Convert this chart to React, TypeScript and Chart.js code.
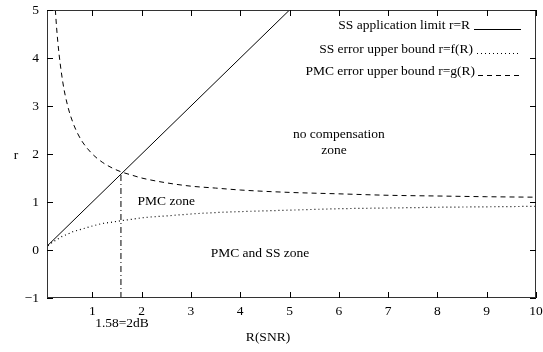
import React, { useEffect, useRef } from "react";
import { Chart, registerables } from "chart.js";

Chart.register(...registerables);

// Sample abscissae R (SNR)
const rSamples = [0.1, 0.15, 0.2, 0.25, 0.3, 0.4, 0.5, 0.6, 0.7, 0.8, 1, 1.2, 1.4, 1.58, 1.8, 2, 2.5, 3, 3.5, 4, 5, 6, 7, 8, 9, 10];
// SS error upper bound r=f(R)
const fValues = [0.09, 0.13, 0.17, 0.2, 0.23, 0.29, 0.33, 0.38, 0.41, 0.44, 0.5, 0.55, 0.58, 0.61, 0.64, 0.67, 0.71, 0.75, 0.78, 0.8, 0.83, 0.86, 0.875, 0.89, 0.9, 0.91];
// PMC error upper bound r=g(R)
const gValues = [11, 7.67, 6, 5, 4.33, 3.5, 3, 2.67, 2.43, 2.25, 2, 1.83, 1.71, 1.63, 1.56, 1.5, 1.4, 1.33, 1.29, 1.25, 1.2, 1.17, 1.14, 1.125, 1.11, 1.1];
// SS application limit r=R
const limitR = [0.1, 5];
const limitr = [0.1, 5];
// 2 dB marker
const markerR = [1.58, 1.58];
const markerr = [-1, 1.6];

const xTicks = [1, 2, 3, 4, 5, 6, 7, 8, 9, 10];
const yTicks = [-1, 0, 1, 2, 3, 4, 5];

const legendLabels = ["SS application limit r=R", "SS error upper bound r=f(R)", "PMC error upper bound r=g(R)"];
const legendDashes = [[], [1, 3], [5, 4]];

const FONT = '13.5px "Liberation Serif", "Times New Roman", serif';

const decorPlugin = {
  id: "decor",
  afterDraw(chart: any) {
    const { ctx, chartArea } = chart;
    const xs = chart.scales.x;
    const ys = chart.scales.y;
    const { left, right, top, bottom } = chartArea;
    ctx.save();
    // frame
    ctx.strokeStyle = "#333";
    ctx.lineWidth = 1;
    ctx.setLineDash([]);
    ctx.strokeRect(Math.round(left) + 0.5, Math.round(top) + 0.5, Math.round(right - left) - 1, Math.round(bottom - top) - 1);
    // inward ticks
    ctx.strokeStyle = "#000";
    ctx.beginPath();
    xTicks.forEach((v) => {
      const px = Math.round(xs.getPixelForValue(v)) + 0.5;
      ctx.moveTo(px, bottom);
      ctx.lineTo(px, bottom - 6);
      ctx.moveTo(px, top);
      ctx.lineTo(px, top + 6);
    });
    yTicks.forEach((v) => {
      const py = Math.round(ys.getPixelForValue(v)) + 0.5;
      ctx.moveTo(left, py);
      ctx.lineTo(left + 6, py);
      ctx.moveTo(right, py);
      ctx.lineTo(right - 6, py);
    });
    ctx.stroke();

    // texts
    ctx.fillStyle = "#000";
    ctx.font = FONT;
    ctx.textBaseline = "middle";
    ctx.textAlign = "center";
    ctx.fillText("r", 16, 155);
    ctx.fillText("R(SNR)", 268, 337);
    ctx.fillText("1.58=2dB", 122, 323);
    ctx.fillText("no compensation", xs.getPixelForValue(6.0), ys.getPixelForValue(2.4));
    ctx.fillText("zone", xs.getPixelForValue(5.9), ys.getPixelForValue(2.08));
    ctx.fillText("PMC zone", xs.getPixelForValue(2.5), ys.getPixelForValue(1.02));
    ctx.fillText("PMC and SS zone", xs.getPixelForValue(4.4), ys.getPixelForValue(-0.08));

    // legend
    ctx.textAlign = "right";
    ctx.textBaseline = "alphabetic";
    const baselines = [29, 53, 75];
    const textRight = [470, 473, 475];
    const lineStart = [474, 477, 478];
    const lineEnd = [521, 520, 522];
    legendLabels.forEach((lab, i) => {
      ctx.fillText(lab, textRight[i], baselines[i]);
      ctx.beginPath();
      ctx.setLineDash(legendDashes[i]);
      ctx.strokeStyle = "#000";
      ctx.moveTo(lineStart[i], baselines[i] + 0.5);
      ctx.lineTo(lineEnd[i], baselines[i] + 0.5);
      ctx.stroke();
    });
    ctx.restore();
  },
};

export default function App() {
  const ref = useRef<HTMLCanvasElement>(null);
  useEffect(() => {
    document.body.style.margin = "0";
    const canvas = ref.current!;
    const chart = new Chart(canvas, {
      type: "scatter",
      data: {
        datasets: [
          {
            label: legendLabels[0],
            data: limitR.map((x, i) => ({ x, y: limitr[i] })),
            showLine: true,
            borderColor: "#000",
            borderWidth: 1,
            pointRadius: 0,
          },
          {
            label: legendLabels[1],
            data: rSamples.map((x, i) => ({ x, y: fValues[i] })),
            showLine: true,
            borderColor: "#000",
            borderWidth: 1.2,
            borderDash: [1, 3],
            pointRadius: 0,
            cubicInterpolationMode: "monotone",
          },
          {
            label: legendLabels[2],
            data: rSamples.map((x, i) => ({ x, y: gValues[i] })),
            showLine: true,
            borderColor: "#000",
            borderWidth: 1,
            borderDash: [5, 4],
            pointRadius: 0,
            cubicInterpolationMode: "monotone",
          },
          {
            label: "2dB",
            data: markerR.map((x, i) => ({ x, y: markerr[i] })),
            showLine: true,
            borderColor: "#000",
            borderWidth: 1,
            borderDash: [6, 3, 1, 3],
            pointRadius: 0,
          },
        ],
      } as any,
      options: {
        animation: false,
        responsive: false,
        devicePixelRatio: 1,
        layout: { padding: { top: 10, right: 7, left: 0, bottom: 0 } },
        plugins: { legend: { display: false }, tooltip: { enabled: false } },
        scales: {
          x: {
            type: "linear",
            min: 0.08,
            max: 10,
            afterBuildTicks: (s: any) => {
              s.ticks = xTicks.map((v) => ({ value: v }));
            },
            afterFit: (s: any) => {
              s.height = 54;
              s.paddingLeft = 0;
              s.paddingRight = 0;
            },
            grid: { display: false, drawTicks: false },
            border: { display: false },
            ticks: { color: "#000", font: { family: '"Liberation Serif", serif', size: 13.5 }, padding: 5, maxRotation: 0, autoSkip: false },
          },
          y: {
            type: "linear",
            min: -1,
            max: 5,
            afterBuildTicks: (s: any) => {
              s.ticks = yTicks.map((v) => ({ value: v }));
            },
            afterFit: (s: any) => {
              s.width = 47;
              s.paddingTop = 0;
              s.paddingBottom = 0;
            },
            grid: { display: false, drawTicks: false },
            border: { display: false },
            ticks: {
              color: "#000",
              font: { family: '"Liberation Serif", serif', size: 13.5 },
              padding: 8,
              callback: (v: any) => (v < 0 ? "\u2212" + Math.abs(v) : String(v)),
            },
          },
        },
      } as any,
      plugins: [decorPlugin],
    });
    return () => chart.destroy();
  }, []);
  return (
    <div style={{ position: "absolute", left: 0, top: 0, width: 543, height: 352, background: "#fff" }}>
      <canvas ref={ref} width={543} height={352} style={{ width: 543, height: 352, display: "block" }} />
    </div>
  );
}
